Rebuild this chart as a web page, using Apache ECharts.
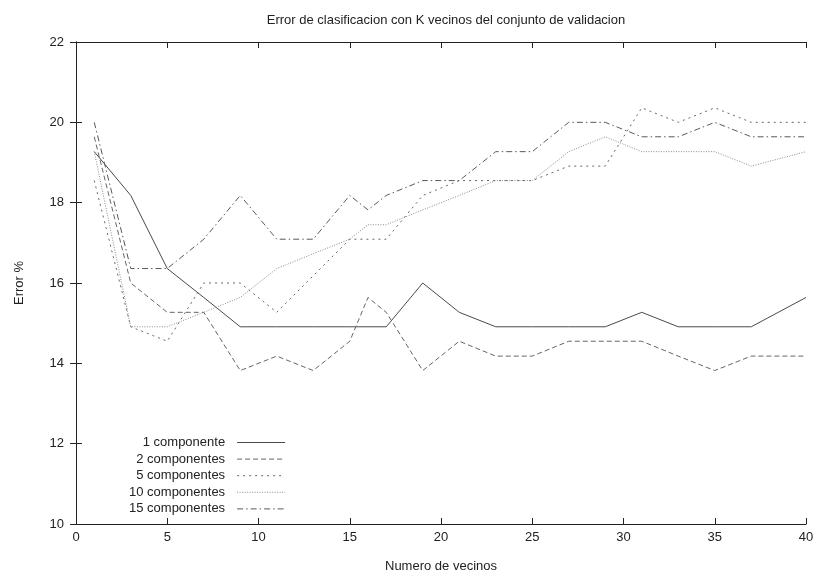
<!DOCTYPE html>
<html>
<head>
<meta charset="utf-8">
<script src="https://cdn.jsdelivr.net/npm/echarts@6/dist/echarts.min.js"></script>
<style>html,body{margin:0;padding:0;background:#fff;}#c{width:817px;height:572px;}</style>
</head>
<body>
<div id="c"></div>
<script>
const titleText = 'Error de clasificacion con K vecinos del conjunto de validacion';
const xName = 'Numero de vecinos';
const yName = 'Error %';
const neighbours = [1, 3, 5, 7, 9, 11, 13, 15, 16, 17, 19, 21, 23, 25, 27, 29, 31, 33, 35, 37, 40];
const names = ['1 componente', '2 componentes', '5 componentes', '10 componentes', '15 componentes'];
const comp1  = [19.27, 18.18, 16.36, 15.64, 14.91, 14.91, 14.91, 14.91, 14.91, 14.91, 16.00, 15.27, 14.91, 14.91, 14.91, 14.91, 15.27, 14.91, 14.91, 14.91, 15.64];
const comp2  = [19.64, 16.00, 15.27, 15.27, 13.82, 14.18, 13.82, 14.55, 15.64, 15.27, 13.82, 14.55, 14.18, 14.18, 14.55, 14.55, 14.55, 14.18, 13.82, 14.18, 14.18];
const comp5  = [18.55, 14.91, 14.55, 16.00, 16.00, 15.27, null, 17.09, 17.09, 17.09, 18.18, 18.55, 18.55, 18.55, 18.91, 18.91, 20.36, 20.00, 20.36, 20.00, 20.00];
const comp10 = [19.27, 14.91, 14.91, 15.27, 15.64, 16.36, 16.73, 17.09, 17.45, 17.45, 17.82, 18.18, 18.55, 18.55, 19.27, 19.64, 19.27, 19.27, 19.27, 18.91, 19.27];
const comp15 = [20.00, 16.36, 16.36, 17.09, 18.18, 17.09, 17.09, 18.18, 17.82, 18.18, 18.55, 18.55, 19.27, 19.27, 20.00, 20.00, 19.64, 19.64, 20.00, 19.64, 19.64];
const allSeries = [comp1, comp2, comp5, comp10, comp15];

const styles = [
  {color: '#4a4a4a', type: 'solid'},
  {color: '#666666', type: [5, 3]},
  {color: '#666666', type: [2, 4]},
  {color: '#8a8a8a', type: [1, 1.5]},
  {color: '#5a5a5a', type: [6, 3, 1.5, 3]}
];

const font = 'Liberation Sans, Arial, Helvetica, sans-serif';
const chart = echarts.init(document.getElementById('c'), null, {renderer: 'canvas'});

const series = allSeries.map((vals, i) => ({
  name: names[i],
  type: 'line',
  symbol: 'none',
  connectNulls: true,
  animation: false,
  data: neighbours.map((x, j) => [x, vals[j]]),
  lineStyle: {width: 1, color: styles[i].color, type: styles[i].type},
  itemStyle: {color: styles[i].color}
}));

const axisLine = {show: true, lineStyle: {color: '#222', width: 1}};
chart.setOption({
  backgroundColor: '#fff',
  title: {
    text: titleText, left: 441, top: 9, textAlign: 'center',
    textStyle: {fontFamily: font, fontSize: 13, fontWeight: 'normal', color: '#222'}
  },
  legend: {
    orient: 'vertical', left: 124, top: 431, align: 'right',
    itemWidth: 48, itemHeight: 10, itemGap: 3.6,
    itemStyle: {color: 'rgba(0,0,0,0)', borderWidth: 0, opacity: 0},
    lineStyle: {width: 1},
    textStyle: {fontFamily: font, fontSize: 13, color: '#222', padding: [0, 7, 0, 0]},
    data: names
  },
  grid: {left: 76, right: 11, top: 42, bottom: 48, containLabel: false, outerBoundsMode: 'none'},
  xAxis: [{
    type: 'value', min: 0, max: 40, interval: 5,
    name: xName, nameLocation: 'middle', nameGap: 36,
    nameTextStyle: {fontFamily: font, fontSize: 13, color: '#222'},
    axisLine: axisLine,
    axisTick: {show: true, inside: true, length: 6, lineStyle: {color: '#222'}},
    axisLabel: {fontFamily: font, fontSize: 13, color: '#222', margin: 7},
    splitLine: {show: false}
  }, {
    type: 'value', min: 0, max: 40, interval: 5, position: 'top',
    axisLine: axisLine,
    axisTick: {show: true, inside: true, length: 6, lineStyle: {color: '#222'}},
    axisLabel: {show: false}, splitLine: {show: false}
  }],
  yAxis: [{
    type: 'value', min: 10, max: 22, interval: 2,
    name: yName, nameLocation: 'middle', nameGap: 50,
    nameTextStyle: {fontFamily: font, fontSize: 13, color: '#222'},
    axisLine: axisLine,
    axisTick: {show: true, inside: true, length: 6, lineStyle: {color: '#222'}},
    axisLabel: {fontFamily: font, fontSize: 13, color: '#222', margin: 12},
    splitLine: {show: false}
  }, {
    type: 'value', min: 10, max: 22, interval: 2, position: 'right',
    axisLine: axisLine,
    axisTick: {show: true, inside: true, length: 6, lineStyle: {color: '#222'}},
    axisLabel: {show: false}, splitLine: {show: false}
  }],
  series: series
});
</script>
</body>
</html>
